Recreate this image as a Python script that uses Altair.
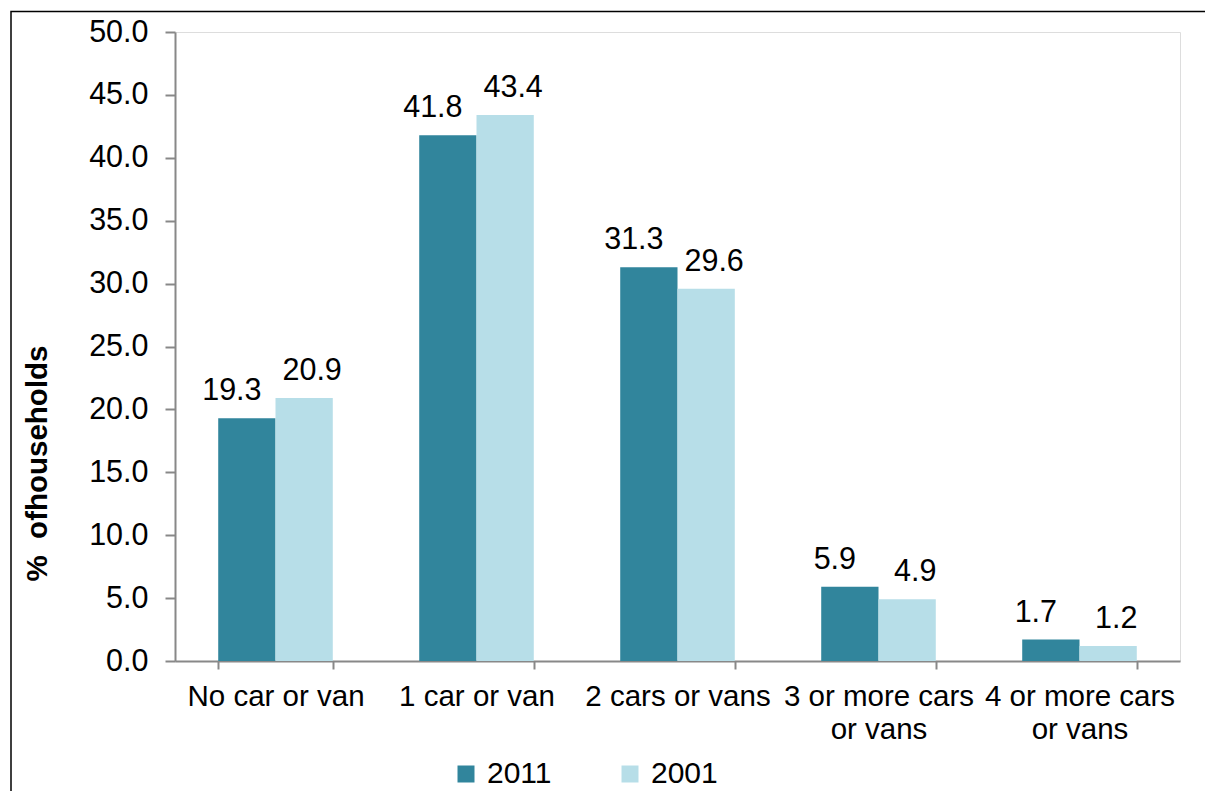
import altair as alt
import pandas as pd

categories = ["No car or van", "1 car or van", "2 cars or vans",
              "3 or more cars or vans", "4 or more cars or vans"]
years = ["2011", "2001"]
values_2011 = [19.3, 41.8, 31.3, 5.9, 1.7]
values_2001 = [20.9, 43.4, 29.6, 4.9, 1.2]
colors = ["#31859C", "#B7DEE8"]
y_ticks = [0, 5, 10, 15, 20, 25, 30, 35, 40, 45, 50]
y_title = "% \u00a0ofhouseholds"

rows = []
for c, v in zip(categories, values_2011):
    rows.append({"category": c, "year": "2011", "value": v})
for c, v in zip(categories, values_2001):
    rows.append({"category": c, "year": "2001", "value": v})
df = pd.DataFrame(rows)

FONT = "Liberation Sans"
FS_NUM = 30.5
FS_CAT = 29.5
FS_LEG = 30
GRAY = "#888888"

x = alt.X(
    "category:N", sort=categories, title=None,
    scale=alt.Scale(paddingInner=0.43, paddingOuter=0.215),
    axis=alt.Axis(
        labelAngle=0, tickBand="extent", grid=False,
        labelExpr="length(datum.label) > 15 ? [slice(datum.label, 0, 14), slice(datum.label, 15)] : datum.label",
        labelFont=FONT, labelFontSize=FS_CAT, labelColor="black",
        labelPadding=13, labelLineHeight=33, labelLimit=0, labelOverlap=False,
        domainColor=GRAY, domainWidth=2, tickColor=GRAY, tickWidth=2, tickSize=8,
    ),
)
xo = alt.XOffset("year:N", sort=years, scale=alt.Scale(paddingInner=0, paddingOuter=0))
y = alt.Y(
    "value:Q",
    scale=alt.Scale(domain=[0, 50], nice=False),
    axis=alt.Axis(
        values=y_ticks, format=".1f", grid=False,
        title=y_title, titleFont=FONT, titleFontSize=FS_CAT, titleFontWeight="bold",
        titleColor="black", titleX=-138, titleY=431, titleAlign="center",
        titleBaseline="middle", titleAngle=270,
        labelFont=FONT, labelFontSize=FS_NUM, labelColor="black", labelPadding=17,
        domainColor=GRAY, domainWidth=2, tickColor=GRAY, tickWidth=2, tickSize=10,
    ),
)
color = alt.Color(
    "year:N", sort=years,
    scale=alt.Scale(domain=years, range=colors),
    legend=alt.Legend(
        orient="none", legendX=276, legendY=727, direction="horizontal",
        title=None, symbolType="square", symbolSize=289, symbolStrokeWidth=0,
        symbolOpacity=1, labelFont=FONT, labelFontSize=FS_LEG, labelColor="black",
        labelOffset=6, columnPadding=63, padding=0,
    ),
)

base = alt.Chart(df).encode(x=x, xOffset=xo, y=y)
bars = base.mark_bar().encode(color=color)

lab_2011 = base.transform_filter(alt.datum.year == "2011").mark_text(
    dx=-15, dy=-18, baseline="alphabetic", font=FONT, fontSize=FS_NUM, color="black"
).encode(text=alt.Text("value:Q", format=".1f"))
lab_2001 = base.transform_filter(alt.datum.year == "2001").mark_text(
    dx=8, dy=-18, baseline="alphabetic", font=FONT, fontSize=FS_NUM, color="black"
).encode(text=alt.Text("value:Q", format=".1f"))

frame = alt.Chart(alt.Data(values=[{"f": 1}])).mark_rect(
    fillOpacity=0, stroke="black", strokeWidth=1.5
).encode(x=alt.value(-164), x2=alt.value(1100), y=alt.value(-20.5), y2=alt.value(900))

chart = alt.layer(frame, bars, lab_2011, lab_2001).properties(
    width=1005, height=629,
    autosize=alt.AutoSizeParams(type="none"),
    padding={"left": 167, "top": 24, "right": 25, "bottom": 130},
).configure_view(stroke="black", strokeWidth=2).configure(background="white")

chart.save("out.html", embed_options={"renderer": "svg", "actions": False})
